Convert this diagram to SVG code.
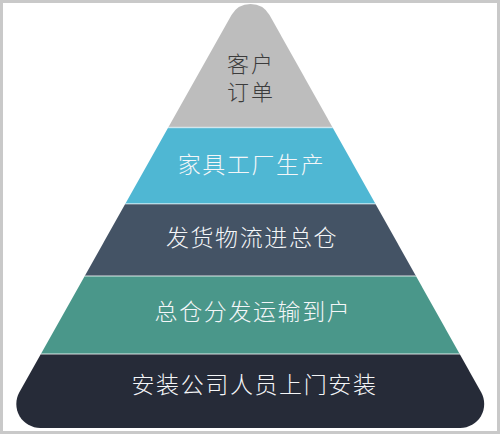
<svg xmlns="http://www.w3.org/2000/svg" width="500" height="434" viewBox="0 0 500 434">
  <style>
    .lbl { font-family: "Noto Sans CJK SC", "Noto Sans", sans-serif; font-size: 23px; font-weight: 300; letter-spacing: 1.6px; text-anchor: middle; fill: #f4f6f8; }
    .top { fill: #3c3c3c; font-size: 22px; letter-spacing: 2px; }
    .sep { stroke: #ffffff; stroke-opacity: 0.55; stroke-width: 1.5; }
  </style>
  <defs>
    <clipPath id="pyr">
      <path d="M 231.5 15.1 A 21.8 21.8 0 0 1 269.5 15.1 L 481.15 392.3 A 24 24 0 0 1 460.2 428 L 40.3 428 A 24 24 0 0 1 19.35 392.3 Z"/>
    </clipPath>
  </defs>
  <rect x="0" y="0" width="500" height="434" fill="#ffffff"/>
  <rect x="1.5" y="1.5" width="497" height="431" fill="none" stroke="#c9c9c9" stroke-width="3"/>
  <g clip-path="url(#pyr)">
    <g id="layer1">
      <rect x="0" y="0" width="500" height="127.5" fill="#bdbdbd"/>
    </g>
    <g id="layer2">
      <rect x="0" y="127.5" width="500" height="76.5" fill="#4fb7d3"/>
    </g>
    <g id="layer3">
      <rect x="0" y="204" width="500" height="72" fill="#445365"/>
    </g>
    <g id="layer4">
      <rect x="0" y="276" width="500" height="78" fill="#4a978a"/>
    </g>
    <g id="layer5">
      <rect x="0" y="354" width="500" height="80" fill="#262b38"/>
    </g>
    <g id="separators">
      <line class="sep" x1="0" y1="127.5" x2="500" y2="127.5"/>
      <line class="sep" x1="0" y1="203.8" x2="500" y2="203.8"/>
      <line class="sep" x1="0" y1="276" x2="500" y2="276"/>
      <line class="sep" x1="0" y1="354" x2="500" y2="354"/>
    </g>
  </g>
  <g id="labels">
    <text class="lbl top" x="251" y="72"><tspan x="251" y="72">客户</tspan><tspan x="251" y="100">订单</tspan></text>
    <text class="lbl" x="251.5" y="173">家具工厂生产</text>
    <text class="lbl" x="252" y="246">发货物流进总仓</text>
    <text class="lbl" x="253" y="320">总仓分发运输到户</text>
    <text class="lbl" x="254.5" y="393">安装公司人员上门安装</text>
  </g>
</svg>
